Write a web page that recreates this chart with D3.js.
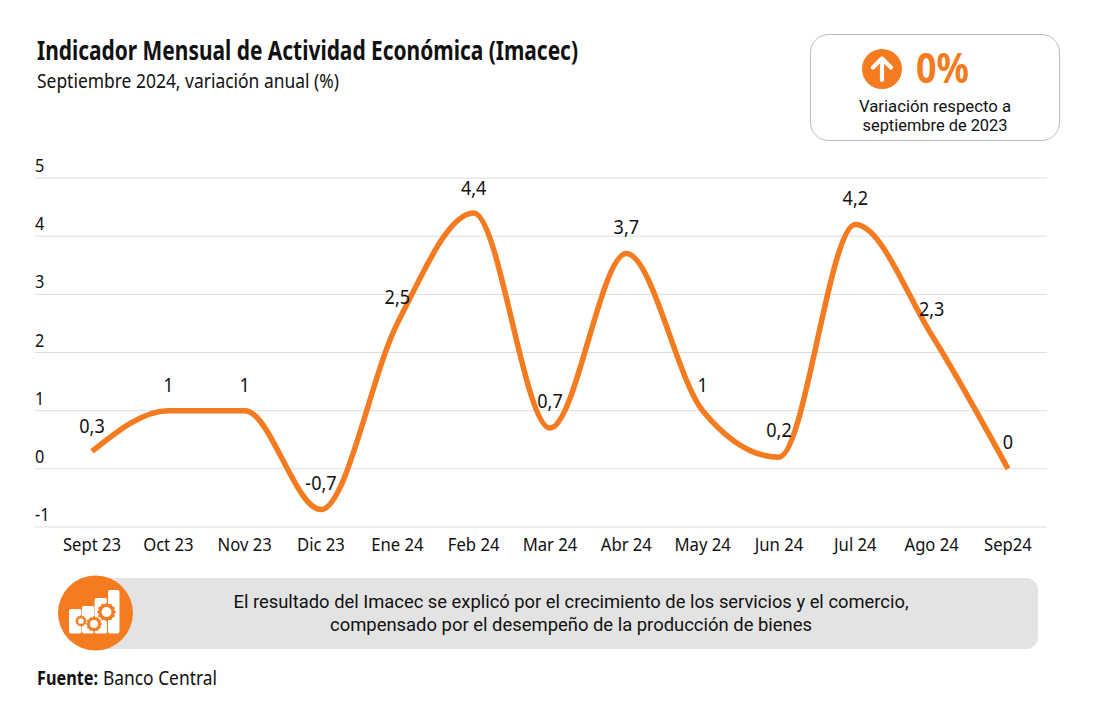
<!DOCTYPE html>
<html><head><meta charset="utf-8">
<script src="https://cdn.jsdelivr.net/npm/d3@7"></script>
<style>html,body{margin:0;padding:0;background:#fff}svg{display:block}text{font-family:"Noto Sans",sans-serif;fill:#111}text.tight{font-family:Roboto,sans-serif}</style>
</head><body><div id="c"></div>
<script>
const categories=["Sept 23","Oct 23","Nov 23","Dic 23","Ene 24","Feb 24","Mar 24","Abr 24","May 24","Jun 24","Jul 24","Ago 24","Sep24"];
const values=[0.3,1,1,-0.7,2.5,4.4,0.7,3.7,1,0.2,4.2,2.3,0];
const labels=["0,3","1","1","-0,7","2,5","4,4","0,7","3,7","1","0,2","4,2","2,3","0"];
const yTicks=[-1,0,1,2,3,4,5];
const W=1095,H=720,ORANGE="#F47B20";
const svg=d3.select("#c").append("svg").attr("width",W).attr("height",H);
function txt(s,x,y,size,width,opt={}){
  const t=svg.append("text").attr("x",x).attr("y",y).attr("font-size",size).attr("text-anchor",opt.anchor||"start")
    .attr("font-weight",opt.weight||400).text(s);
  if(width){t.attr("textLength",width).attr("lengthAdjust","spacingAndGlyphs");}
  if(opt.fill)t.style("fill",opt.fill);
  if(opt.cls)t.attr("class",opt.cls);
  return t;
}
// horizontally condense a text to k of its natural width (stand-in for the reference's narrow face)
function condense(sel,k){
  sel.each(function(){
    const n=this.getComputedTextLength();
    d3.select(this).attr("textLength",n*k).attr("lengthAdjust","spacingAndGlyphs");
  });
}
const x=d3.scalePoint().domain(categories).range([92,1008]);
const y=d3.scaleLinear().domain([-1,5]).range([527,178]);
// grid
svg.append("g").selectAll("line").data(yTicks).join("line")
  .attr("x1",35).attr("x2",1047).attr("y1",d=>y(d)).attr("y2",d=>y(d)).attr("stroke","#dedede").attr("stroke-width",1);
// y labels
svg.append("g").selectAll("text").data(yTicks).join("text")
  .attr("x",35).attr("y",d=>y(d)-6).attr("font-size",18.5).text(d=>d).call(condense,0.88);
// x labels
svg.append("g").selectAll("text").data(categories).join("text")
  .attr("x",d=>x(d)).attr("y",550.5).attr("font-size",18.5).attr("text-anchor","middle").text(d=>d).call(condense,0.9);
// line
const line=d3.line().x((d,i)=>x(categories[i])).y(d=>y(d)).curve(d3.curveMonotoneX);
svg.append("path").datum(values).attr("d",line).attr("fill","none").attr("stroke",ORANGE).attr("stroke-width",5.5);
// value labels
const labelDY=[-18,-19,-19,-20,-19,-18,-20,-20,-19,-20,-20,-19,-20];
svg.append("g").selectAll("text").data(values).join("text")
  .attr("x",(d,i)=>x(categories[i])).attr("y",(d,i)=>y(d)+labelDY[i]).attr("font-size",20.5).attr("text-anchor","middle")
  .text((d,i)=>labels[i]).call(condense,0.88);
// title
txt("Indicador Mensual de Actividad Económica (Imacec)",37,60,26.5,541,{weight:700});
txt("Septiembre 2024, variación anual (%)",37,88,19.5,302);
// badge
svg.append("rect").attr("x",810.5).attr("y",34.5).attr("width",249).attr("height",106).attr("rx",18).attr("fill","#fff").attr("stroke","#bdbdbd");
svg.append("circle").attr("cx",882).attr("cy",69).attr("r",20).attr("fill",ORANGE);
svg.append("path").attr("d","M882 80V59M873 67.5L882 58.5L891 67.5").attr("fill","none").attr("stroke","#fff").attr("stroke-width",4.2).attr("stroke-linecap","round").attr("stroke-linejoin","round");
txt("0%",916,83,41,53,{weight:700,fill:ORANGE});
txt("Variación respecto a",935,111.5,16.6,152,{anchor:"middle",cls:"tight"});
txt("septiembre de 2023",935,131,16.6,145,{anchor:"middle",cls:"tight"});
// note
svg.append("rect").attr("x",80).attr("y",578).attr("width",958).attr("height",71).attr("rx",12).attr("fill","#e3e3e3");
txt("El resultado del Imacec se explicó por el crecimiento de los servicios y el comercio,",571,607.5,18,675,{anchor:"middle",cls:"tight"});
txt("compensado por el desempeño de la producción de bienes",571,630.5,18,482,{anchor:"middle",cls:"tight"});
// icon
svg.append("circle").attr("cx",95.5).attr("cy",613).attr("r",37.5).attr("fill",ORANGE);
const bars=[[69,609,13],[82,606,12.5],[94.5,598,13],[108,590,12]];
bars.forEach(b=>svg.append("rect").attr("x",b[0]).attr("y",b[1]).attr("width",b[2]-.5).attr("height",633.5-b[1]).attr("rx",2).attr("fill","#fff"));
function gear(cx,cy,r){
  const n=12,pts=[];
  for(let i=0;i<n*2;i++){const a=i*Math.PI/n,R=i%2?r:r+1.6;pts.push([cx+R*Math.cos(a),cy+R*Math.sin(a)]);}
  svg.append("path").attr("d",d3.line().curve(d3.curveLinearClosed)(pts)).attr("fill",ORANGE);
  svg.append("circle").attr("cx",cx).attr("cy",cy).attr("r",r*0.62).attr("fill","#fff");
}
gear(81,621,4.6);gear(94,624,6.6);gear(106.5,612,8);
// source
txt("Fuente:",37,685,19.5,61,{weight:700});
txt("Banco Central",103,685,19.5,114);
</script></body></html>
